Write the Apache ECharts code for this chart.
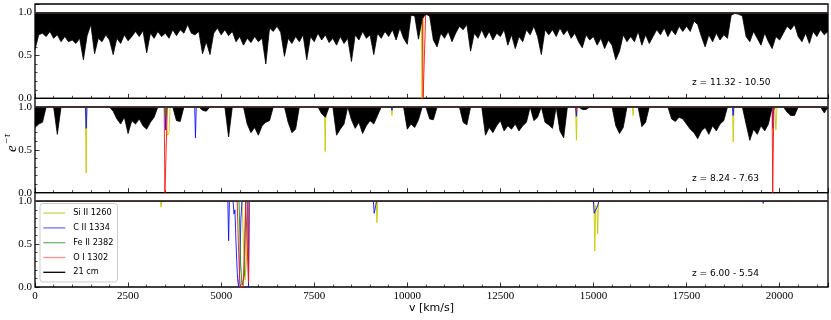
<!DOCTYPE html>
<html>
<head>
<meta charset="utf-8">
<script src="https://cdn.jsdelivr.net/npm/echarts@6.0.0/dist/echarts.min.js"></script>
<style>
html, body { margin: 0; padding: 0; background: #fff; }
#chart { width: 831px; height: 320px; }
</style>
</head>
<body>
<div id="chart"></div>
<script>
// 21 cm forest, transmission sampled every dv km/s from v = 0
const dv = 100;
const vMax = 21300;
const zLabels = ['z = 11.32 - 10.50', 'z = 8.24 - 7.63', 'z = 6.00 - 5.54'];

const forest1 = [
    0.57, 0.74, 0.76, 0.72, 0.78, 0.70, 0.74, 0.66, 0.72, 0.66,
    0.68, 0.64, 0.70, 0.45, 0.73, 0.86, 0.52, 0.70, 0.66, 0.74,
    0.68, 0.51, 0.70, 0.64, 0.74, 0.67, 0.72, 0.78, 0.72, 0.79,
    0.53, 0.76, 0.70, 0.78, 0.72, 0.76, 0.70, 0.80, 0.73, 0.80,
    0.76, 0.86, 0.76, 0.74, 0.78, 0.52, 0.66, 0.51, 0.76, 0.82,
    0.74, 0.80, 0.73, 0.78, 0.66, 0.72, 0.62, 0.70, 0.65, 0.72,
    0.66, 0.70, 0.40, 0.82, 0.78, 0.84, 0.77, 0.49, 0.70, 0.64,
    0.72, 0.66, 0.74, 0.45, 0.72, 0.66, 0.76, 0.68, 0.74, 0.65,
    0.70, 0.62, 0.72, 0.64, 0.70, 0.43, 0.74, 0.68, 0.78, 0.70,
    0.74, 0.51, 0.76, 0.70, 0.78, 0.72, 0.80, 0.68, 0.82, 0.70,
    0.63, 0.97, 0.96, 0.69, 0.93, 0.98, 0.96, 0.68, 0.60, 0.76,
    0.70, 0.78, 0.66, 0.76, 0.84, 0.80, 0.86, 0.55, 0.76, 0.70,
    0.80, 0.70, 0.78, 0.68, 0.76, 0.72, 0.80, 0.62, 0.74, 0.58,
    0.72, 0.66, 0.80, 0.74, 0.84, 0.72, 0.51, 0.80, 0.74, 0.80,
    0.72, 0.82, 0.74, 0.80, 0.70, 0.76, 0.66, 0.59, 0.74, 0.68,
    0.72, 0.62, 0.70, 0.58, 0.68, 0.62, 0.45, 0.55, 0.74, 0.66,
    0.72, 0.66, 0.78, 0.62, 0.74, 0.64, 0.72, 0.80, 0.74, 0.82,
    0.72, 0.80, 0.74, 0.84, 0.78, 0.84, 0.78, 0.90, 0.86, 0.72,
    0.60, 0.74, 0.66, 0.76, 0.68, 0.74, 0.70, 0.97, 0.99, 0.98,
    0.96, 0.72, 0.66, 0.78, 0.70, 0.62, 0.76, 0.66, 0.58, 0.72,
    0.68, 0.76, 0.84, 0.80, 0.86, 0.72, 0.66, 0.76, 0.64, 0.78,
    0.72, 0.80, 0.74, 0.78
];

const forest2 = [
    0.76, 0.80, 0.82, 1, 1, 1, 0.68, 1, 1, 1,
    1, 1, 1, 1, 1, 1, 1, 1, 1, 1,
    1, 0.95, 0.86, 0.80, 0.88, 0.69, 0.84, 0.80, 0.86, 0.78,
    0.74, 0.82, 0.88, 1, 1, 1, 1, 1, 0.84, 0.83,
    1, 1, 1, 1, 1, 0.96, 0.95, 1, 1, 1,
    1, 1, 0.65, 1, 1, 1, 1, 0.80, 0.70, 0.76,
    0.67, 0.78, 0.82, 0.84, 1, 1, 1, 1, 0.82, 0.70,
    0.74, 1, 1, 1, 1, 1, 1, 0.92, 0.88, 1,
    1, 0.67, 0.74, 0.80, 1, 0.85, 0.75, 0.82, 0.69, 0.78,
    0.84, 0.80, 0.90, 1, 1, 1, 1, 1, 1, 1,
    0.74, 0.80, 0.76, 0.85, 1, 1, 0.86, 0.85, 1, 1,
    1, 1, 1, 1, 1, 0.82, 0.79, 1, 1, 1,
    1, 0.67, 0.76, 0.70, 0.78, 0.84, 0.72, 0.78, 0.74, 0.80,
    0.72, 0.78, 0.82, 1, 0.84, 0.88, 1, 0.82, 0.79, 0.75,
    1, 0.72, 0.64, 1, 1, 1, 1, 0.97, 0.97, 1,
    1, 1, 1, 1, 1, 1, 0.78, 0.69, 0.76, 1,
    1, 1, 1, 0.77, 0.82, 1, 1, 1, 1, 1,
    1, 0.86, 0.83, 0.88, 0.86, 0.80, 0.74, 0.70, 0.63, 0.72,
    0.76, 0.68, 0.78, 0.72, 0.80, 0.84, 1, 1, 1, 1,
    1, 0.80, 0.61, 0.74, 0.68, 0.78, 0.72, 0.80, 1, 1,
    1, 1, 0.94, 0.90, 0.90, 1, 1, 1, 1, 1,
    1, 1, 0.93, 1
];

const forest3 = [[0, 1], [vMax, 1]];

// metal lines, [v, transmission]
const siII1 = [[0, 1], [10375, 1], [10395, 0], [10412, 0], [10435, 1], [vMax, 1]];
const cII1 = [[0, 1], [10400, 1], [10420, 0.94], [10440, 1], [vMax, 1]];
const feII1 = [[0, 1], [10410, 1], [10430, 0.96], [10450, 1], [vMax, 1]];
const oI1 = [[0, 1], [10405, 1], [10425, 0], [10470, 0], [10495, 1], [vMax, 1]];

const siII2 = [[0, 1], [340, 1], [358, 0.98], [375, 1], [1352, 1], [1375, 0.23], [1395, 1],
    [3490, 1], [3520, 0.8], [3560, 0.67], [3600, 0.7], [3630, 1], [7775, 1], [7796, 0.48], [7815, 1],
    [9570, 1], [9588, 0.9], [9605, 1], [14520, 1], [14543, 0.61], [14565, 1], [16045, 1], [16066, 0.9],
    [16085, 1], [18735, 1], [18755, 0.59], [18775, 1], [19870, 1], [19900, 0.73], [19930, 1], [vMax, 1]];
const cII2 = [[0, 1], [1355, 1], [1375, 0.75], [1395, 1], [3490, 1], [3512, 0.73], [3535, 1],
    [4290, 1], [4310, 0.64], [4330, 1], [7780, 1], [7796, 0.92], [7812, 1], [9575, 1], [9588, 0.96],
    [9600, 1], [14520, 1], [14540, 0.89], [14560, 1], [14700, 1], [14740, 0.97], [14790, 0.98],
    [14830, 1], [18735, 1], [18752, 0.9], [18770, 1], [19800, 1], [19820, 0.75], [19840, 1], [vMax, 1]];
const feII2 = [[0, 1], [3495, 1], [3515, 0.9], [3545, 1], [19845, 1], [19860, 0.97], [19875, 1], [vMax, 1]];
const oI2 = [[0, 1], [1360, 1], [1375, 0.98], [1390, 1], [3470, 1], [3490, 0], [3535, 0], [3555, 1],
    [14525, 1], [14540, 0.96], [14555, 1], [19800, 1], [19815, 0], [19830, 0], [19845, 1], [vMax, 1]];

const siII3 = [[0, 1], [3370, 1], [3387, 0.93], [3405, 1], [5560, 1], [5600, 0.5], [5640, 0.08],
    [5680, 0.3], [5717, 1], [9165, 1], [9185, 0.75], [9205, 1], [14170, 1], [14185, 0.985], [14200, 1],
    [15015, 1], [15035, 0.42], [15060, 0.95], [15095, 0.9], [15115, 0.62], [15135, 1], [vMax, 1]];
const cII3 = [[0, 1], [5180, 1], [5200, 0.54], [5222, 1], [5320, 1], [5345, 0.85], [5370, 0.9],
    [5400, 0.5], [5440, 0.1], [5470, 0], [5500, 0.2], [5530, 0.8], [5560, 1], [5715, 1], [5735, 0],
    [5755, 1], [9090, 1], [9110, 0.86], [9130, 0.9], [9150, 0.95], [9175, 1], [15000, 1], [15020, 0.86],
    [15060, 0.9], [15100, 0.93], [15145, 1], [19545, 1], [19560, 0.975], [19575, 1], [vMax, 1]];
const feII3 = [[0, 1], [5480, 1], [5520, 0.3], [5560, 0.02], [5600, 0], [5630, 0.15], [5660, 1], [vMax, 1]];
const oI3 = [[0, 1], [5430, 1], [5470, 0.4], [5510, 0], [5590, 0], [5630, 0.5], [5660, 1],
    [5710, 1], [5735, 0.05], [5755, 1], [vMax, 1]];

const species = [
    { name: 'Si II 1260', color: '#c8c800', legend: '#d2d25a', data: [siII1, siII2, siII3] },
    { name: 'C II 1334', color: '#1010ff', legend: '#7070ff', data: [cII1, cII2, cII3] },
    { name: 'Fe II 2382', color: '#109010', legend: '#70b870', data: [feII1, feII2, feII3] },
    { name: 'O I 1302', color: '#ff1010', legend: '#ff9090', data: [oI1, oI2, oI3] }
];
const forests = [
    forest1.map((t, i) => [i * dv, t]),
    forest2.map((t, i) => [i * dv, t]),
    forest3
];

const chart = echarts.init(document.getElementById('chart'));

const tops = [4, 98.33, 192.67];
const panelH = 94.33;
const serif = 'Liberation Serif';
const sans = 'DejaVu Sans';

const grids = tops.map(t => ({
    left: 35, top: t, width: 793, height: panelH,
    show: true, borderColor: '#000', borderWidth: 1.3, backgroundColor: 'transparent'
}));

const xAxes = tops.map((t, i) => ({
    type: 'value', gridIndex: i, min: 0, max: vMax, interval: 2500,
    axisLine: { show: false },
    axisTick: { show: true, inside: true, length: 4.5, lineStyle: { color: '#000', width: 0.8 } },
    minorTick: { show: true, splitNumber: 5, length: 2.5, lineStyle: { color: '#000', width: 0.7 } },
    splitLine: { show: false },
    axisLabel: {
        show: i === 2, showMaxLabel: false, color: '#000',
        fontFamily: serif, fontSize: 11, margin: 4,
        formatter: v => String(v)
    },
    name: i === 2 ? 'v [km/s]' : '',
    nameLocation: 'middle', nameGap: 16,
    nameTextStyle: { fontFamily: sans, fontSize: 11, color: '#000' }
}));

const yAxes = tops.map((t, i) => ({
    type: 'value', gridIndex: i, min: 0, max: 1.1, interval: 0.5,
    axisLine: { show: false },
    axisTick: { show: true, inside: true, length: 4.5, lineStyle: { color: '#000', width: 0.8 } },
    minorTick: { show: true, splitNumber: 5, length: 2.5, lineStyle: { color: '#000', width: 0.7 } },
    splitLine: { show: false },
    axisLabel: {
        showMaxLabel: false, color: '#000', fontFamily: serif, fontSize: 11, margin: 3,
        formatter: v => v.toFixed(1)
    }
}));

const series = [];
tops.forEach((t, i) => {
    species.forEach(s => {
        series.push({
            type: 'line', name: s.name, xAxisIndex: i, yAxisIndex: i,
            data: s.data[i], symbol: 'none', z: 2,
            itemStyle: { color: s.color },
            lineStyle: { color: s.color, width: 1, opacity: 0.9 }
        });
    });
    series.push({
        type: 'line', name: '21 cm', xAxisIndex: i, yAxisIndex: i,
        data: forests[i], symbol: 'none', z: 3,
        itemStyle: { color: '#000' },
        lineStyle: { color: '#000', width: 0.8 },
        areaStyle: { color: '#000', opacity: 1, origin: 1 },
        // continuum level of the spectrum
        markLine: {
            silent: true, symbol: 'none', animation: false,
            label: { show: false },
            lineStyle: { color: '#333', width: 1.6, type: 'solid' },
            data: [{ yAxis: 1 }]
        }
    });
});

const legendData = species.map(s => ({
    name: s.name, itemStyle: { color: s.legend }, lineStyle: { color: s.legend, width: 0 }
}));
legendData.push({ name: '21 cm', itemStyle: { color: '#000' }, lineStyle: { color: '#000', width: 0 } });

const graphic = zLabels.map((txt, i) => ({
    type: 'text', x: 692, y: [83, 179, 274][i],
    style: {
        text: txt, fill: '#000', font: '9px "DejaVu Sans"',
        textAlign: 'left', textVerticalAlign: 'middle', align: 'left', verticalAlign: 'middle'
    }
}));
graphic.push({
    type: 'group', x: 12.5, y: 152, rotation: Math.PI / 2,
    children: [
        { type: 'text', x: 0, y: 0, style: { text: 'e', fill: '#000', font: 'italic 15px "Liberation Serif"',
            textAlign: 'left', textVerticalAlign: 'middle', align: 'left', verticalAlign: 'middle' } },
        { type: 'text', x: 7.5, y: -5, style: { text: '\u2212\u03c4', fill: '#000', font: 'italic 10.5px "Liberation Serif"',
            textAlign: 'left', textVerticalAlign: 'middle', align: 'left', verticalAlign: 'middle' } }
    ]
});

const option = {
    animation: false,
    backgroundColor: '#fff',
    grid: grids,
    xAxis: xAxes,
    yAxis: yAxes,
    legend: {
        orient: 'vertical', left: 40, top: 203.5,
        icon: 'rect', itemWidth: 22, itemHeight: 1.3, itemGap: 4.8,
        padding: [4.6, 4, 4.6, 3.3],
        borderColor: '#cccccc', borderWidth: 1, borderRadius: 3,
        backgroundColor: 'rgba(255,255,255,0.85)',
        selectedMode: false,
        textStyle: { fontFamily: sans, fontSize: 8.2, color: '#000', lineHeight: 10, padding: [0, 0, 0, 3] },
        data: legendData
    },
    graphic: graphic,
    series: series
};

chart.setOption(option);
</script>
</body>
</html>
